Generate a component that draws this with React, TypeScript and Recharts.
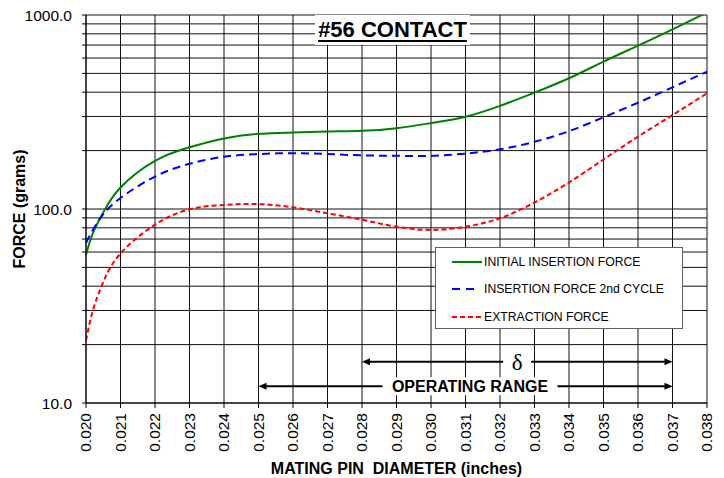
import React from 'react';
import { LineChart, Line, XAxis, YAxis, CartesianGrid, ReferenceLine, Legend } from 'recharts';

const diameters = [0.020, 0.0202, 0.0205, 0.021, 0.022, 0.023, 0.024, 0.025, 0.026, 0.027, 0.028, 0.029, 0.030, 0.031, 0.032, 0.033, 0.034, 0.035, 0.036, 0.037, 0.038];
const initialInsertion = [58, 75, 96, 129, 177, 208, 231, 244, 248, 251, 253, 261, 277, 299, 340, 398, 472, 575, 695, 844, 1030];
const secondCycle = [67, 78, 94, 114, 147, 171, 186, 192, 194, 192, 189, 188, 188, 193, 203, 222, 252, 297, 353, 424, 510];
const extraction = [21, 30, 42, 59, 83, 99.6, 105, 106, 102, 95, 88, 81, 78, 81, 89.6, 108, 137, 180, 236, 305, 395];

const xTicks = [0.020, 0.021, 0.022, 0.023, 0.024, 0.025, 0.026, 0.027, 0.028, 0.029, 0.030, 0.031, 0.032, 0.033, 0.034, 0.035, 0.036, 0.037, 0.038];
const yTicks = [10, 20, 30, 40, 50, 60, 70, 80, 90, 100, 200, 300, 400, 500, 600, 700, 800, 900, 1000];
const yLabelled = [10, 100, 1000];

const deltaRange = [0.028, 0.037];
const deltaLevel = 16.3;
const deltaLabelAt = 0.0325;
const operatingRange = [0.025, 0.037];
const operatingLevel = 12.2;
const operatingLabelAt = 0.03113;

const seriesNames = ['INITIAL INSERTION FORCE', 'INSERTION FORCE 2nd CYCLE', 'EXTRACTION FORCE'];
const seriesColors = ['#008000', '#0000ff', '#ff0000'];

const data = diameters.map((d, i) => ({
  d,
  initial: initialInsertion[i],
  second: secondCycle[i],
  extraction: extraction[i],
}));

const FONT = '"Liberation Sans", Arial, Helvetica, sans-serif';

function makeArrow(label: string, labelAt: number, start: number, end: number, gapHalf: number, textProps: any) {
  return (props: any) => {
    const { x1, y1, x2 } = props;
    const cx = x1 + ((labelAt - start) / (end - start)) * (x2 - x1);
    const y = y1;
    const head = 8;
    return (
      <g>
        <rect x={cx - gapHalf + 5} y={y - 9} width={2 * gapHalf - 10} height={18} fill="#fff" />
        <line x1={x1 + head - 1} y1={y} x2={cx - gapHalf} y2={y} stroke="#000" strokeWidth={2} />
        <line x1={cx + gapHalf} y1={y} x2={x2 - head + 1} y2={y} stroke="#000" strokeWidth={2} />
        <polygon points={`${x1},${y} ${x1 + head},${y - 3.5} ${x1 + head},${y + 3.5}`} fill="#000" />
        <polygon points={`${x2},${y} ${x2 - head},${y - 3.5} ${x2 - head},${y + 3.5}`} fill="#000" />
        <text x={cx} y={y} textAnchor="middle" fill="#000" {...textProps}>{label}</text>
      </g>
    );
  };
}

const XTick = (p: any) => (
  <text
    x={p.x}
    y={p.y}
    transform={`rotate(-90 ${p.x} ${p.y})`}
    textAnchor="end"
    dy="0.35em"
    fontSize={15.5}
    fontFamily={FONT}
    fill="#000"
  >
    {Number(p.payload.value).toFixed(3)}
  </text>
);

const LegendBox = () => (
  <div
    style={{
      position: 'relative',
      width: 248,
      height: 82,
      boxSizing: 'border-box',
      border: '1px solid #606060',
      background: '#fff',
      fontFamily: FONT,
      fontSize: 12.2,
      color: '#000',
    }}
  >
    {seriesNames.map((name, i) => {
      const cy = [14, 41, 69][i];
      const dash = [undefined, '8 6', '5 3'][i];
      return (
        <div key={name} style={{ position: 'absolute', left: 0, top: cy - 10, height: 20, width: 246 }}>
          <svg width={48} height={20} style={{ position: 'absolute', left: 0, top: 0 }}>
            <line x1={16} y1={10} x2={[46, 40, 46][i]} y2={10} stroke={seriesColors[i]} strokeWidth={2} strokeDasharray={dash} />
          </svg>
          <span style={{ position: 'absolute', left: 48, top: 0, lineHeight: '20px', whiteSpace: 'nowrap' }}>{name}</span>
        </div>
      );
    })}
  </div>
);

export default function App() {
  return (
    <div style={{ position: 'absolute', left: 0, top: 0, width: 724, height: 478, background: '#fff', fontFamily: FONT }}>
      <LineChart width={724} height={478} data={data} margin={{ top: 15, right: 17, bottom: 0, left: 0 }}>
        <CartesianGrid stroke="#111" strokeWidth={1} />
        <XAxis
          dataKey="d"
          type="number"
          domain={[0.02, 0.038]}
          ticks={xTicks}
          interval={0}
          height={75}
          tickSize={5}
          tickMargin={5}
          tick={XTick}
          stroke="#000"
          tickLine={{ stroke: '#000' }}
          label={{
            value: 'MATING PIN\u00A0 DIAMETER (inches)',
            position: 'insideBottom',
            offset: 4,
            style: { fontWeight: 'bold', fontSize: 16, fontFamily: FONT, fill: '#000' },
          }}
        />
        <YAxis
          type="number"
          scale="log"
          domain={[10, 1000]}
          allowDataOverflow
          ticks={yTicks}
          interval={0}
          width={86}
          tickSize={4}
          tickMargin={10}
          stroke="#000"
          tickLine={{ stroke: '#000' }}
          tick={{ fontSize: 15.5, fontFamily: FONT, fill: '#000' }}
          tickFormatter={(v: number) => (yLabelled.includes(v) ? v.toFixed(1) : '')}
          label={{
            value: 'FORCE (grams)',
            angle: -90,
            position: 'insideLeft',
            offset: 19,
            style: { fontWeight: 'bold', fontSize: 16, fontFamily: FONT, fill: '#000', textAnchor: 'middle' },
          }}
        />
        <ReferenceLine
          segment={[{ x: deltaRange[0], y: deltaLevel }, { x: deltaRange[1], y: deltaLevel }]}
          shape={makeArrow('\u03B4', deltaLabelAt, deltaRange[0], deltaRange[1], 14, {
            fontSize: 23,
            fontFamily: '"Liberation Serif", "Times New Roman", serif',
            dy: '0.36em',
          })}
        />
        <ReferenceLine
          segment={[{ x: operatingRange[0], y: operatingLevel }, { x: operatingRange[1], y: operatingLevel }]}
          shape={makeArrow('OPERATING RANGE', operatingLabelAt, operatingRange[0], operatingRange[1], 87.5, {
            fontSize: 16,
            fontWeight: 'bold',
            fontFamily: FONT,
            dy: '0.35em',
          })}
        />
        <Line type="natural" dataKey="initial" name={seriesNames[0]} stroke={seriesColors[0]} strokeWidth={2} dot={false} isAnimationActive={false} />
        <Line type="natural" dataKey="second" name={seriesNames[1]} stroke={seriesColors[1]} strokeWidth={2} strokeDasharray="8 5" dot={false} isAnimationActive={false} />
        <Line type="natural" dataKey="extraction" name={seriesNames[2]} stroke={seriesColors[2]} strokeWidth={2} strokeDasharray="5 3" dot={false} isAnimationActive={false} />
        <Legend
          layout="horizontal"
          verticalAlign="middle"
          align="center"
          wrapperStyle={{ left: 435, top: 247, width: 248, height: 82 }}
          content={() => <LegendBox />}
        />
      </LineChart>
      <div
        style={{
          position: 'absolute',
          left: 315,
          top: 15,
          width: 155,
          height: 30,
          background: '#fff',
          textAlign: 'center',
          lineHeight: '30px',
          fontSize: 22,
          fontWeight: 'bold',
          fontFamily: FONT,
          color: '#000',
          textDecoration: 'underline',
          textDecorationThickness: '2px',
          textUnderlineOffset: '3px',
        }}
      >
        #56 CONTACT
      </div>
    </div>
  );
}
